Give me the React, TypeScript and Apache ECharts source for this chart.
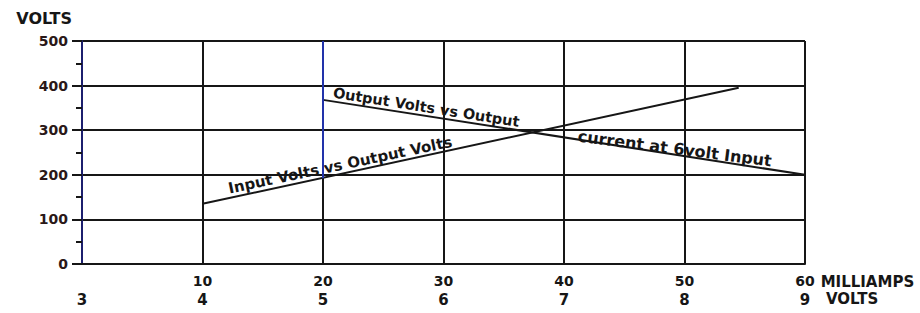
import React, { useEffect, useRef } from "react";
import * as echarts from "echarts";

// Data
const mATicks = [0, 10, 20, 30, 40, 50, 60];
const inputVoltTicks = [3, 4, 5, 6, 7, 8, 9];
const voltTicks = [0, 100, 200, 300, 400, 500];
const inputVsOutput: [number, number][] = [
  [10, 135],
  [54.5, 395],
];
const outputVsCurrent: [number, number][] = [
  [20, 368],
  [60, 200],
];
const blueSegment: [number, number][] = [
  [20, 500],
  [20, 192],
];

const FONT = "DejaVu Sans";
const INK = "#161616";

export default function App() {
  const ref = useRef<HTMLDivElement>(null);
  useEffect(() => {
    if (!ref.current) return;
    const chart = echarts.init(ref.current, undefined, { renderer: "svg" });
    chart.setOption({
      animation: false,
      backgroundColor: "#ffffff",
      grid: { left: 82, right: 115, top: 41, bottom: 49, containLabel: false },
      xAxis: [
        {
          type: "value",
          min: mATicks[0],
          max: mATicks[mATicks.length - 1],
          interval: 10,
          position: "bottom",
          name: "MILLIAMPS",
          nameLocation: "end",
          nameGap: 15,
          nameTextStyle: {
            fontFamily: FONT,
            fontWeight: "bold",
            fontSize: 15,
            color: INK,
            verticalAlign: "top",
            padding: [10, 0, 0, 0],
          },
          axisLine: { show: true, lineStyle: { color: INK, width: 2 } },
          axisTick: { show: false },
          axisLabel: {
            margin: 10,
            fontFamily: FONT,
            fontWeight: "bold",
            fontSize: 14,
            color: INK,
            formatter: (v: number) => (v === 0 ? "" : String(v)),
          },
          splitLine: { show: true, lineStyle: { color: INK, width: 2 } },
        },
        {
          type: "value",
          min: inputVoltTicks[0],
          max: inputVoltTicks[inputVoltTicks.length - 1],
          interval: 1,
          position: "bottom",
          offset: 24,
          name: "VOLTS",
          nameLocation: "end",
          nameGap: 21,
          nameTextStyle: {
            fontFamily: FONT,
            fontWeight: "bold",
            fontSize: 15,
            color: INK,
            verticalAlign: "top",
            padding: [3, 0, 0, 0],
          },
          axisLine: { show: false },
          axisTick: { show: false },
          splitLine: { show: false },
          axisLabel: {
            margin: 4,
            fontFamily: FONT,
            fontWeight: "bold",
            fontSize: 15,
            color: INK,
          },
        },
      ],
      yAxis: {
        type: "value",
        min: voltTicks[0],
        max: voltTicks[voltTicks.length - 1],
        interval: 100,
        name: "VOLTS",
        nameLocation: "end",
        nameGap: 23,
        nameTextStyle: {
          fontFamily: FONT,
          fontWeight: "bold",
          fontSize: 16,
          color: INK,
          align: "right",
          verticalAlign: "middle",
          padding: [0, 10, 0, 0],
        },
        axisLine: { show: true, lineStyle: { color: "#1c1f6e", width: 2 } },
        axisTick: { show: true, length: 10, inside: false, lineStyle: { color: INK, width: 2 } },
        minorTick: { show: true, splitNumber: 2, length: 6, lineStyle: { color: INK, width: 2 } },
        axisLabel: {
          margin: 14,
          fontFamily: FONT,
          fontWeight: "bold",
          fontSize: 14,
          color: "#2a1818",
        },
        splitLine: { show: true, lineStyle: { color: INK, width: 2 } },
      },
      series: [
        {
          name: "Input Volts vs Output Volts",
          type: "line",
          data: inputVsOutput,
          showSymbol: false,
          symbol: "none",
          lineStyle: { color: INK, width: 2 },
          markLine: {
            silent: true,
            symbol: ["none", "none"],
            label: { show: false },
            lineStyle: { color: "#2233aa", width: 2, type: "solid" },
            data: [[{ coord: blueSegment[0] }, { coord: blueSegment[1] }]],
          },
        },
        {
          name: "Output Volts vs Output current at 6volt Input",
          type: "line",
          data: outputVsCurrent,
          showSymbol: false,
          symbol: "none",
          lineStyle: { color: INK, width: 2 },
        },
      ],
      graphic: [
        {
          type: "text",
          x: 230,
          y: 196,
          rotation: 0.207,
          style: {
            text: "Input Volts vs Output Volts",
            fontFamily: FONT,
            fontWeight: "bold",
            fontSize: 15,
            fill: INK,
            align: "left",
            verticalAlign: "bottom",
          },
        },
        {
          type: "text",
          x: 332,
          y: 100,
          rotation: -0.157,
          style: {
            text: "Output Volts vs Output",
            fontFamily: FONT,
            fontWeight: "bold",
            fontSize: 14.5,
            fill: INK,
            align: "left",
            verticalAlign: "bottom",
          },
        },
        {
          type: "text",
          x: 577,
          y: 144,
          rotation: -0.128,
          style: {
            text: "current at 6volt Input",
            fontFamily: FONT,
            fontWeight: "bold",
            fontSize: 16,
            fill: INK,
            align: "left",
            verticalAlign: "bottom",
          },
        },
      ],
    });
    return () => chart.dispose();
  }, []);
  return (
    <div
      ref={ref}
      style={{ position: "fixed", left: 0, top: 0, width: 920, height: 313, background: "#fff" }}
    />
  );
}
